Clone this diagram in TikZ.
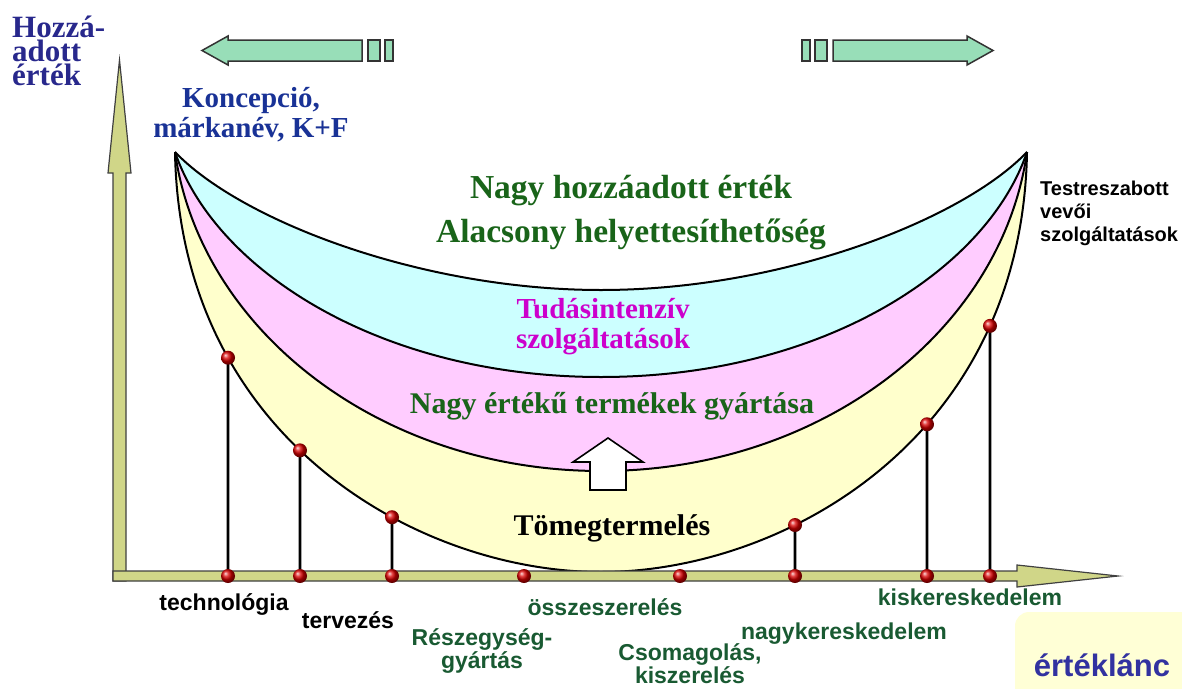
\documentclass[tikz,border=0pt]{standalone}
\usepackage{fontspec}
\setmainfont{Liberation Serif}
\setsansfont{Liberation Sans}
\usetikzlibrary{intersections}
\definecolor{hblue}{RGB}{40,40,140}
\definecolor{kblue}{RGB}{25,50,150}
\definecolor{sgreen}{RGB}{25,100,25}
\definecolor{lgreen}{RGB}{25,90,50}
\definecolor{mag}{RGB}{204,0,204}
\definecolor{eblue}{RGB}{50,50,160}
\definecolor{cyanf}{RGB}{204,255,255}
\definecolor{pinkf}{RGB}{255,204,255}
\definecolor{yellf}{RGB}{255,255,204}
\definecolor{boxf}{RGB}{255,255,214}
\definecolor{axisf}{RGB}{208,214,136}
\definecolor{mint}{RGB}{152,222,184}
\begin{document}
\begin{tikzpicture}[x=1pt,y=-1pt,
  curve/.style={draw=black,line width=2pt},
  axisbar/.style={fill=axisf,draw=black!75,line width=1.2pt,line join=miter},
  mintarrow/.style={fill=mint,draw=black!80,line width=1.5pt},
  post/.style={line width=2.6pt,black},
  dot/.style={circle,inner sep=0pt,minimum size=14pt,shading=ball,ball color=red!85!black},
  serifbig/.style={font=\bfseries\fontsize{33.5}{44}\selectfont,text=sgreen},
  serifmid/.style={font=\bfseries\fontsize{30}{30}\selectfont},
  lab/.style={font=\sffamily\bfseries\fontsize{23}{16}\selectfont,text=lgreen},
  blab/.style={font=\sffamily\bfseries\fontsize{23}{16}\selectfont,text=black}]
\useasboundingbox (0,0) rectangle (1182,688);

% value-chain box
\fill[boxf,rounded corners=14pt] (1015,612) rectangle (1215,720);

% fills
\fill[yellf] (175,152) .. controls (180,440) and (420,572) .. (601,572) .. controls (782,572) and (1022,440) .. (1027,152)
  .. controls (962,220) and (782,290) .. (601,290) .. controls (420,290) and (240,220) .. (175,152);
\fill[pinkf] (175,152) .. controls (200,330) and (380,471) .. (601,471) .. controls (822,471) and (1002,330) .. (1027,152)
  .. controls (962,220) and (782,290) .. (601,290) .. controls (420,290) and (240,220) .. (175,152);
\fill[cyanf] (175,152) .. controls (215,270) and (380,377) .. (601,377) .. controls (822,377) and (987,270) .. (1027,152)
  .. controls (962,220) and (782,290) .. (601,290) .. controls (420,290) and (240,220) .. (175,152);

% curves
\draw[curve,name path=outer] (175,152) .. controls (180,440) and (420,572) .. (601,572) .. controls (782,572) and (1022,440) .. (1027,152);
\draw[curve] (175,152) .. controls (200,330) and (380,471) .. (601,471) .. controls (822,471) and (1002,330) .. (1027,152);
\draw[curve] (175,152) .. controls (215,270) and (380,377) .. (601,377) .. controls (822,377) and (987,270) .. (1027,152);
\draw[curve] (175,152) .. controls (240,220) and (420,290) .. (601,290) .. controls (782,290) and (962,220) .. (1027,152);

% up arrow
\draw[fill=white,line width=1.6pt,line join=miter] (590,490) -- (590,462) -- (573,462) -- (608,438) -- (643,462) -- (626,462) -- (626,490) -- cycle;

% axes
\draw[axisbar] (113,581) -- (113,173) -- (108,173) -- (119.5,60) -- (131,173) -- (126,173) -- (126,581) -- cycle;
\draw[axisbar] (113,581) -- (113,571) -- (1017,571) -- (1017,565) -- (1118,576) -- (1017,587) -- (1017,581) -- cycle;

% top arrows
\draw[mintarrow] (202,50.5) -- (228,36) -- (228,40) -- (362,40) -- (362,61) -- (228,61) -- (228,65) -- cycle;
\draw[mintarrow] (368,40) rectangle (380,61);
\draw[mintarrow] (385,40) rectangle (393,61);
\draw[mintarrow] (993,50.5) -- (967,36) -- (967,40) -- (833,40) -- (833,61) -- (967,61) -- (967,65) -- cycle;
\draw[mintarrow] (815,40) rectangle (827,61);
\draw[mintarrow] (802,40) rectangle (810,61);

% posts and dots
\foreach \x [count=\i] in {228,300,392,795,927,990} {
  \path[name path=vl] (\x,100) -- (\x,600);
  \path[name intersections={of=outer and vl,by={pt\i}}];
  \coordinate (pb\i) at (\x,576);
  \draw[post] (pb\i) -- (pt\i);
  \node[dot] (dt\i) at (pt\i) {};
  \node[dot] (db\i) at (pb\i) {};
}
\node[dot] (dc1) at (524,576) {};
\node[dot] (dc2) at (680,576) {};

% texts (base anchor = baseline of the last line)
\node[anchor=base west,align=left,inner sep=0pt,font=\bfseries\fontsize{31}{24}\selectfont,text=hblue] (hozza) at (12,85) {Hozzá-\\adott\\érték};
\node[anchor=base,align=center,inner sep=0pt,font=\bfseries\fontsize{29}{30}\selectfont,text=kblue] (konc) at (251,137) {Koncepció,\\márkanév, K+F};
\node[anchor=base,align=center,inner sep=0pt,serifbig] (nagyh) at (631,242) {Nagy hozzáadott érték\\Alacsony helyettesíthetőség};
\node[anchor=base,align=center,inner sep=0pt,font=\bfseries\fontsize{29}{29.5}\selectfont,text=mag] (tudas) at (603,348) {Tudásintenzív\\szolgáltatások};
\node[anchor=base,inner sep=0pt,serifmid,text=sgreen] (nagye) at (612,413) {Nagy értékű termékek gyártása};
\node[anchor=base,inner sep=0pt,serifmid,text=black] (tomeg) at (612,535) {Tömegtermelés};
\node[anchor=base west,align=left,inner sep=0pt,font=\sffamily\bfseries\fontsize{20}{23}\selectfont] (testre) at (1040,241) {Testreszabott\\vevői\\szolgáltatások};
\node[anchor=base,inner sep=0pt,blab] (tech) at (224,610) {technológia};
\node[anchor=base,inner sep=0pt,blab] (terv) at (348,628) {tervezés};
\node[anchor=base,align=center,inner sep=0pt,lab] (resz) at (482,668) {Részegység-\\gyártás};
\node[anchor=base,inner sep=0pt,lab] (ossze) at (605,615) {összeszerelés};
\node[anchor=base,align=center,inner sep=0pt,lab] (csom) at (690,683) {Csomagolás,\\kiszerelés};
\node[anchor=base,inner sep=0pt,lab] (nagyk) at (844,639) {nagykereskedelem};
\node[anchor=base,inner sep=0pt,lab] (kisk) at (970,605) {kiskereskedelem};
\node[anchor=base,inner sep=0pt,font=\sffamily\bfseries\fontsize{31}{31}\selectfont,text=eblue] (ertek) at (1102,676) {értéklánc};
\end{tikzpicture}
\end{document}
